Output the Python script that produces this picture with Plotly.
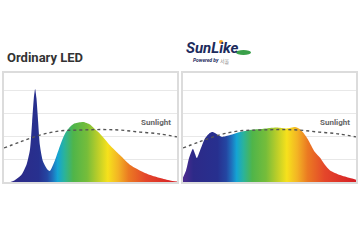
import plotly.graph_objects as go

# wavelength (nm) and relative intensity
led_wl = [395, 405, 420, 432, 440, 445, 449, 452, 455, 459, 463, 470, 479, 486, 498,
          510, 521, 533, 544, 563, 579, 590, 602, 625, 648, 671, 694, 718, 741, 764, 780]
led_val = [0, 0.08, 0.3, 0.75, 1.4, 2.6, 3.65, 4.04, 3.65, 2.6, 1.6, 0.9, 0.58, 0.48, 0.96,
           1.6, 2.1, 2.4, 2.55, 2.61, 2.5, 2.3, 2.1, 1.6, 1.17, 0.75, 0.5, 0.3, 0.17, 0.06, 0.02]

sun_like_wl = [380, 387, 394, 401, 403, 408, 412, 419, 431, 442, 449, 461, 470, 489, 512,
               535, 558, 581, 597, 620, 639, 650, 660, 669, 676, 685, 697, 708, 720, 743, 766, 780]
sun_like_val = [0.2, 0.5, 1.04, 1.39, 1.45, 1.22, 1.04, 1.35, 1.9, 2.13, 2.17, 2.04, 1.96, 2.04, 2.17,
                2.26, 2.3, 2.35, 2.37, 2.33, 2.39, 2.3, 2.1, 1.85, 1.6, 1.3, 1.05, 0.75, 0.5, 0.3, 0.17, 0.1]

sunlight_wl = [380, 417, 463, 509, 556, 602, 648, 694, 741, 780]
sunlight_val = [1.48, 1.74, 2.04, 2.22, 2.26, 2.28, 2.26, 2.17, 2.09, 1.96]

panel_titles = ["Ordinary LED", "SunLike"]
sun_label = "Sunlight"

spectrum_scale = [
    [0.0, "#4e2a8f"], [0.06, "#2d2a88"], [0.2, "#27308f"], [0.25, "#2446a2"],
    [0.28, "#1f70bc"], [0.31, "#14a4d4"], [0.35, "#2bb39a"], [0.40, "#4fb54a"],
    [0.48, "#76bd3a"], [0.54, "#b8cd2a"], [0.60, "#f6e11c"], [0.66, "#f3b424"],
    [0.72, "#eb7a22"], [0.82, "#e4462a"], [1.0, "#d61f26"],
]

fig = go.Figure()

for i, (wl, val) in enumerate([(led_wl, led_val), (sun_like_wl, sun_like_val)]):
    ax = "" if i == 0 else "2"
    fig.add_trace(go.Scatter(
        x=wl, y=val, xaxis="x" + ax, yaxis="y" + ax, mode="lines",
        line=dict(width=0, shape="spline", smoothing=0.6),
        fill="tozeroy",
        fillgradient=dict(type="horizontal", colorscale=spectrum_scale, start=380, stop=780),
        hoverinfo="skip", showlegend=False,
    ))
    fig.add_trace(go.Scatter(
        x=sunlight_wl, y=sunlight_val, xaxis="x" + ax, yaxis="y" + ax, mode="lines",
        line=dict(color="#555555", width=1.4, dash="dot", shape="spline"),
        hoverinfo="skip", showlegend=False,
    ))

ydom = [1 - 182 / 240, 1 - 73 / 240]
axis_common = dict(showline=True, linecolor="#dcdcdc", linewidth=1.5, mirror=True,
                   showticklabels=False, ticks="", zeroline=False)
fig.update_layout(
    width=360, height=240, margin=dict(l=0, r=0, t=0, b=0),
    paper_bgcolor="white", plot_bgcolor="white",
    xaxis=dict(domain=[4 / 360, 177 / 360], range=[380, 780], showgrid=False, **axis_common),
    yaxis=dict(domain=ydom, range=[0, 4.74], dtick=1, showgrid=True, gridcolor="#e8e8e8",
               gridwidth=1, **axis_common),
    xaxis2=dict(domain=[183 / 360, 356 / 360], range=[380, 780], showgrid=False,
                anchor="y2", **axis_common),
    yaxis2=dict(domain=ydom, range=[0, 4.74], dtick=1, showgrid=True, gridcolor="#e8e8e8",
                gridwidth=1, anchor="x2", **axis_common),
)

fnt = "Roboto, sans-serif"
annotations = [
    dict(text="<b>" + panel_titles[0] + "</b>", x=5 / 360, y=1 - 57 / 240, xref="paper", yref="paper",
         xanchor="left", yanchor="middle", showarrow=False,
         font=dict(family=fnt, size=13, color="#333333")),
    dict(text="<b><i>" + panel_titles[1] + "</i></b>", x=184 / 360, y=1 - 48 / 240, xref="paper", yref="paper",
         xanchor="left", yanchor="middle", showarrow=False,
         font=dict(family=fnt, size=15, color="#1c2b5c")),
    dict(text="<b><i>Powered by</i></b>", x=191 / 360, y=1 - 60 / 240, xref="paper", yref="paper",
         xanchor="left", yanchor="middle", showarrow=False,
         font=dict(family=fnt, size=5, color="#1c2b5c")),
    dict(text="서울", x=218 / 360, y=1 - 61 / 240, xref="paper", yref="paper",
         xanchor="left", yanchor="middle", showarrow=False,
         font=dict(family="Noto Sans CJK KR", size=5, color="#888888")),
    dict(text="<b>" + sun_label + "</b>", x=173 / 360, y=1 - 123 / 240, xref="paper", yref="paper",
         xanchor="right", yanchor="middle", showarrow=False,
         font=dict(family=fnt, size=8, color="#666666")),
    dict(text="<b>" + sun_label + "</b>", x=352 / 360, y=1 - 123 / 240, xref="paper", yref="paper",
         xanchor="right", yanchor="middle", showarrow=False,
         font=dict(family=fnt, size=8, color="#666666")),
]
fig.update_layout(annotations=annotations)

fig.add_shape(type="circle", xref="paper", yref="paper",
              x0=236 / 360, x1=251 / 360, y0=1 - 55 / 240, y1=1 - 50 / 240,
              fillcolor="#3aa04a", line=dict(width=0))
fig.add_shape(type="circle", xref="paper", yref="paper",
              x0=219 / 360, x1=223 / 360, y0=1 - 44 / 240, y1=1 - 40 / 240,
              fillcolor="#f5a623", line=dict(width=0))

fig.write_html("out.html")
